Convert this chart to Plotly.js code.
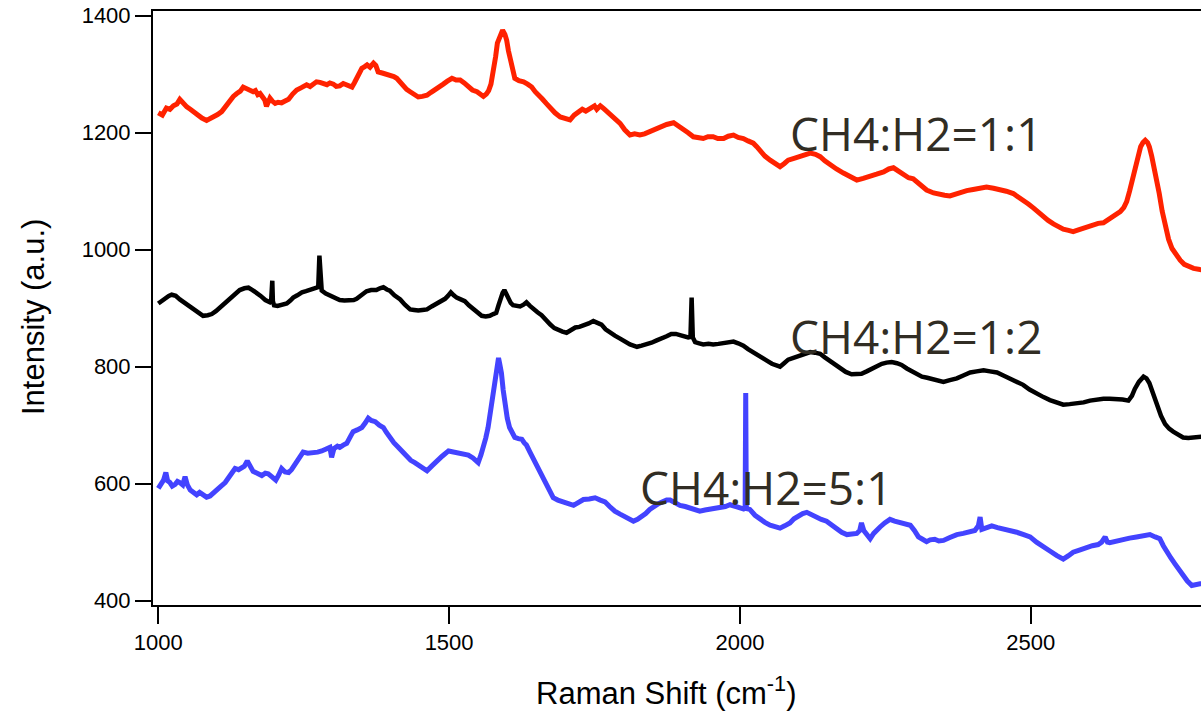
<!DOCTYPE html>
<html>
<head>
<meta charset="utf-8">
<script src="https://cdn.plot.ly/plotly-3.0.1.min.js"></script>
<style>
  html, body { margin: 0; padding: 0; background: #ffffff; }
  #chart { width: 1201px; height: 712px; }
</style>
</head>
<body>
<div id="chart"></div>
<script>
// Raman spectra of films grown at three CH4:H2 ratios (offset vertically)

const red11X = [1000,1007,1014,1020,1026,1032,1037,1043,1049,1055,1060,1067,1075,1083,1089,1095,1102,1109,1116,1123,1129,1135,1141,1146,1152,1158,1163,1167,1171,1175,1179,1183,1186,1189,1192,1196,1201,1206,1212,1218,1224,1231,1238,1246,1255,1261,1267,1272,1278,1284,1290,1295,1301,1306,1312,1318,1324,1328,1333,1337,1341,1346,1350,1355,1359,1364,1370,1374,1378,1385,1393,1400,1405,1410,1416,1421,1427,1433,1440,1447,1454,1462,1469,1476,1483,1490,1497,1505,1512,1519,1526,1533,1540,1548,1553,1559,1564,1568,1572,1576,1580,1583,1587,1592,1596,1599,1602,1605,1609,1613,1620,1628,1635,1642,1648,1655,1660,1667,1674,1682,1691,1699,1708,1715,1722,1729,1735,1742,1750,1754,1760,1766,1772,1777,1785,1794,1802,1811,1819,1828,1836,1845,1853,1863,1874,1886,1894,1903,1911,1920,1928,1937,1945,1954,1962,1972,1980,1989,1997,2006,2014,2023,2029,2035,2043,2052,2060,2069,2076,2083,2093,2103,2112,2121,2130,2138,2146,2155,2166,2178,2190,2201,2212,2224,2235,2247,2256,2264,2272,2281,2290,2298,2310,2321,2333,2344,2352,2361,2370,2379,2390,2401,2412,2424,2436,2447,2458,2470,2478,2487,2496,2505,2513,2522,2530,2539,2547,2556,2565,2573,2582,2590,2599,2608,2616,2625,2632,2639,2647,2654,2660,2665,2670,2674,2678,2682,2686,2689,2693,2697,2701,2704,2708,2712,2716,2721,2726,2731,2737,2743,2750,2757,2764,2771,2780,2791,2800];
const red11Y = [1234,1230,1242,1240,1246,1249,1257,1250,1244,1240,1236,1231,1225,1221,1224,1226,1231,1236,1246,1256,1262,1267,1271,1278,1275,1274,1270,1272,1265,1267,1262,1256,1245,1252,1259,1254,1250,1252,1251,1254,1257,1266,1273,1277,1282,1279,1283,1287,1286,1283,1282,1285,1283,1279,1280,1284,1282,1279,1278,1285,1293,1302,1310,1313,1316,1312,1319,1315,1304,1302,1300,1298,1296,1293,1286,1279,1274,1270,1265,1261,1262,1264,1269,1273,1279,1283,1288,1293,1290,1290,1285,1278,1273,1270,1265,1262,1266,1272,1283,1302,1330,1353,1366,1375,1368,1358,1340,1324,1306,1293,1289,1287,1283,1278,1270,1261,1258,1250,1242,1234,1227,1225,1222,1230,1236,1240,1237,1242,1246,1240,1246,1241,1236,1230,1224,1216,1205,1196,1198,1196,1198,1202,1206,1210,1214,1217,1212,1207,1200,1193,1192,1190,1193,1193,1190,1190,1194,1196,1192,1190,1186,1182,1176,1168,1160,1153,1148,1142,1147,1153,1156,1159,1162,1165,1163,1159,1152,1145,1138,1131,1124,1119,1122,1125,1129,1133,1138,1140,1134,1128,1123,1121,1112,1102,1097,1094,1093,1092,1095,1099,1101,1103,1105,1107,1105,1103,1100,1096,1091,1085,1078,1071,1064,1056,1050,1044,1039,1035,1033,1031,1034,1037,1040,1044,1045,1046,1050,1054,1059,1065,1072,1082,1100,1116,1135,1153,1167,1176,1183,1187,1183,1176,1160,1142,1120,1096,1066,1039,1018,1002,991,982,975,971,968,966,965];

const black12X = [1000,1006,1012,1018,1023,1030,1037,1044,1052,1059,1066,1072,1077,1085,1092,1099,1106,1115,1123,1132,1140,1148,1155,1162,1169,1176,1184,1192,1194,1196,1197,1199,1205,1209,1215,1221,1227,1232,1239,1247,1254,1261,1267,1272,1275,1277,1279,1281,1288,1295,1303,1312,1320,1330,1336,1341,1349,1358,1366,1375,1381,1387,1393,1398,1406,1416,1424,1433,1440,1447,1454,1462,1470,1479,1486,1493,1498,1503,1508,1513,1520,1527,1534,1542,1549,1556,1563,1570,1576,1581,1585,1588,1592,1595,1598,1602,1606,1610,1616,1622,1628,1633,1639,1645,1652,1659,1666,1674,1681,1688,1695,1702,1709,1717,1724,1731,1740,1748,1755,1762,1769,1777,1785,1794,1802,1811,1817,1823,1831,1840,1848,1857,1866,1874,1882,1890,1897,1904,1911,1915,1917,1919,1923,1930,1937,1946,1954,1963,1972,1980,1989,1997,2006,2014,2023,2032,2040,2047,2055,2062,2069,2076,2083,2092,2100,2110,2121,2129,2138,2146,2155,2164,2172,2182,2192,2201,2209,2218,2227,2235,2244,2252,2261,2270,2278,2287,2296,2304,2313,2322,2333,2341,2350,2361,2373,2384,2396,2407,2419,2430,2442,2453,2464,2476,2487,2498,2510,2522,2533,2545,2556,2567,2579,2591,2602,2613,2625,2636,2648,2658,2668,2674,2679,2686,2694,2699,2704,2710,2717,2724,2731,2738,2745,2753,2762,2771,2780,2791,2800];
const black12Y = [908,912,918,921,923,921,915,910,905,900,895,890,887,888,890,895,901,910,918,925,931,934,935,931,927,921,914,910,912,947,912,905,904,905,907,908,913,918,922,927,929,931,933,935,936,990,934,930,925,922,917,914,913,913,914,916,923,929,931,931,934,936,932,930,922,915,906,898,897,896,897,898,903,908,912,916,921,927,922,918,915,912,905,898,892,887,886,887,890,892,905,915,926,931,924,915,909,905,904,903,906,910,904,898,893,888,880,872,866,862,860,858,863,867,868,870,874,878,875,872,864,858,853,848,843,838,836,834,836,838,841,845,848,852,856,856,854,851,850,851,918,850,842,840,838,839,838,839,840,842,843,840,836,830,825,820,815,810,805,803,800,806,812,815,818,822,825,824,822,816,810,803,797,791,787,787,788,792,797,801,805,807,808,806,803,797,792,787,783,781,779,776,774,777,780,785,790,792,794,792,790,785,780,775,769,761,754,748,743,739,735,736,737,739,742,744,745,745,745,744,742,750,762,774,783,780,772,755,735,716,702,694,689,684,679,678,679,682,681];

const blue51X = [1000,1004,1009,1013,1016,1020,1024,1029,1033,1037,1042,1046,1050,1055,1060,1066,1071,1077,1083,1089,1094,1100,1107,1115,1121,1127,1132,1138,1143,1148,1153,1158,1163,1170,1178,1184,1189,1195,1202,1207,1212,1218,1224,1229,1235,1242,1249,1257,1266,1274,1281,1288,1295,1298,1302,1308,1312,1318,1324,1330,1335,1342,1350,1356,1361,1366,1373,1380,1387,1392,1398,1405,1413,1420,1427,1434,1441,1447,1454,1462,1470,1479,1488,1499,1507,1516,1524,1533,1541,1550,1555,1559,1563,1567,1571,1575,1578,1581,1583,1585,1587,1590,1593,1596,1600,1604,1608,1613,1619,1625,1629,1633,1639,1645,1650,1656,1662,1668,1674,1679,1687,1696,1705,1714,1722,1731,1741,1751,1760,1768,1776,1785,1794,1802,1809,1817,1824,1831,1838,1845,1852,1860,1867,1874,1880,1889,1897,1906,1914,1922,1931,1940,1949,1957,1966,1975,1983,1992,2000,2006,2009,2010,2011,2013,2017,2026,2035,2043,2052,2060,2069,2077,2086,2093,2101,2108,2115,2124,2132,2140,2149,2157,2166,2175,2184,2192,2201,2206,2209,2213,2218,2224,2230,2236,2241,2249,2258,2266,2275,2284,2293,2300,2307,2314,2321,2327,2335,2342,2350,2361,2373,2384,2396,2404,2410,2413,2416,2424,2433,2443,2453,2465,2476,2488,2499,2510,2522,2533,2545,2556,2565,2573,2585,2596,2606,2616,2622,2628,2632,2636,2648,2659,2670,2682,2694,2705,2714,2722,2728,2734,2741,2748,2755,2762,2769,2777,2784,2791,2800];
const blue51Y = [592,598,606,619,605,602,596,599,604,602,598,612,598,589,585,581,585,581,577,579,584,588,595,602,610,618,626,624,626,630,639,628,621,618,614,618,617,612,606,615,626,620,619,624,632,643,654,652,652,654,656,660,662,645,660,664,662,666,669,680,689,692,696,704,712,708,706,700,696,688,679,670,662,654,646,640,636,632,627,622,630,639,647,656,654,652,651,649,644,636,650,662,678,696,722,749,770,789,805,815,805,789,760,735,712,696,688,679,677,676,670,666,654,642,630,619,607,596,585,576,572,568,566,563,568,573,574,576,572,569,561,553,548,544,540,536,539,543,549,556,561,566,569,572,572,567,563,561,559,555,553,555,556,558,559,561,564,562,559,557,560,755,560,557,556,546,539,534,529,526,524,528,533,540,546,549,551,546,543,539,536,530,523,517,513,513,515,520,533,520,512,506,515,522,526,533,539,536,533,531,529,520,509,505,501,504,505,502,503,508,513,515,517,520,528,543,522,525,528,525,523,520,517,513,509,500,493,485,477,471,477,483,487,491,494,496,500,509,500,499,502,506,507,509,510,513,509,506,494,483,473,463,452,443,434,426,428,429,428];

const tickVals = { x: [1000, 1500, 2000, 2500], y: [400, 600, 800, 1000, 1200, 1400] };
const seriesNames = ['CH4:H2=1:1', 'CH4:H2=1:2', 'CH4:H2=5:1'];
const labelX = [2083, 2083, 1825];
const labelY = [1199, 853, 594];

const lineStyle = (color, w) => ({ color: color, width: w, shape: 'linear' });

const traces = [
  { x: red11X, y: red11Y, mode: 'lines', name: seriesNames[0], line: lineStyle('#ff2200', 5) },
  { x: black12X, y: black12Y, mode: 'lines', name: seriesNames[1], line: lineStyle('#000000', 4.5) },
  { x: blue51X, y: blue51Y, mode: 'lines', name: seriesNames[2], line: lineStyle('#4343ff', 5) }
];

const tickFont = { family: 'Liberation Sans, Arial, sans-serif', size: 22, color: '#000000' };
const titleFont = { family: 'Liberation Sans, Arial, sans-serif', size: 31, color: '#000000' };
const labelFont = { family: 'Open Sans, Noto Sans, sans-serif', size: 46, color: '#312d24' };

const annotations = seriesNames.map((name, i) => ({
  x: labelX[i], y: labelY[i], xref: 'x', yref: 'y',
  text: name, showarrow: false, xanchor: 'left', yanchor: 'middle',
  font: labelFont
}));

annotations.push({
  xref: 'paper', yref: 'paper', x: 0.4895, y: -0.1446,
  text: 'Raman Shift (cm<sup>-1</sup>)', showarrow: false,
  xanchor: 'center', yanchor: 'middle', font: titleFont
});
annotations.push({
  xref: 'paper', yref: 'paper', x: -0.1145, y: 0.4848,
  text: 'Intensity (a.u.)', showarrow: false, textangle: -90,
  xanchor: 'center', yanchor: 'middle', font: titleFont
});

const layout = {
  width: 1201, height: 712,
  margin: { l: 153, r: 0, t: 11, b: 107, pad: 0 },
  paper_bgcolor: '#ffffff', plot_bgcolor: '#ffffff',
  showlegend: false,
  xaxis: {
    range: [990.9, 2792.8], tickvals: tickVals.x, ticktext: tickVals.x.map(String),
    showline: true, linecolor: '#000000', linewidth: 2, mirror: true,
    ticks: 'outside', ticklen: 17, tickwidth: 2, tickcolor: '#000000',
    showgrid: false, zeroline: false, tickfont: tickFont
  },
  yaxis: {
    range: [392.65, 1408], tickvals: tickVals.y, ticktext: tickVals.y.map(String),
    showline: true, linecolor: '#000000', linewidth: 2,
    ticks: 'outside', ticklen: 16, tickwidth: 2, tickcolor: '#000000',
    showgrid: false, zeroline: false, tickfont: tickFont
  },
  annotations: annotations
};

Plotly.newPlot('chart', traces, layout, { displayModeBar: false, staticPlot: true });
</script>
</body>
</html>
